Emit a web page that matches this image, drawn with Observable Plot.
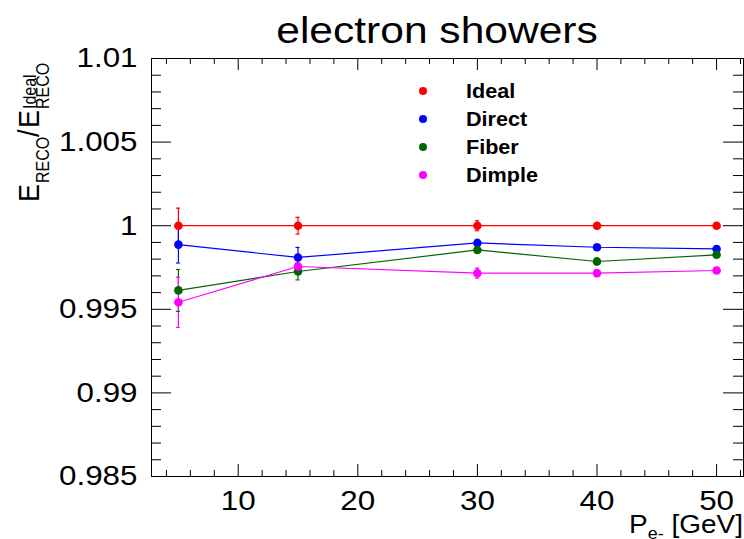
<!DOCTYPE html>
<html><head><meta charset="utf-8">
<script src="https://cdn.jsdelivr.net/npm/d3@7"></script>
<script src="https://cdn.jsdelivr.net/npm/@observablehq/plot@0.6"></script>
<style>body{margin:0;background:#fff} svg{display:block}</style>
</head><body><div id="chart"></div>
<script>
// ---- data ----
const momenta = [5, 15, 30, 40, 50];
const seriesNames = ["Ideal", "Direct", "Fiber", "Dimple"];
const seriesColors = ["#ff0000", "#0000ff", "#006600", "#ff00ff"];
const idealRatio  = [1.0, 1.0, 1.0, 1.0, 1.0];
const idealErr    = [0.00105, 0.0005, 0.0003, 0.0001, 0.0001];
const directRatio = [0.99887, 0.9981, 0.99897, 0.99871, 0.99861];
const directErr   = [0.0011, 0.0006, 0.0002, 0.0001, 0.0001];
const fiberRatio  = [0.99613, 0.99726, 0.99855, 0.99786, 0.99826];
const fiberErr    = [0.00125, 0.0005, 0.0002, 0.0002, 0.0001];
const dimpleRatio = [0.99542, 0.99756, 0.99716, 0.99716, 0.99732];
const dimpleErr   = [0.0015, 0.0002, 0.0003, 0.0002, 0.0001];
const xTicks = [10, 20, 30, 40, 50];
const xTickLabels = ["10", "20", "30", "40", "50"];
const yTicks = [0.985, 0.99, 0.995, 1, 1.005, 1.01];
const yTickLabels = ["0.985", "0.99", "0.995", "1", "1.005", "1.01"];
const titleText = "electron showers";

const allValues = [idealRatio, directRatio, fiberRatio, dimpleRatio];
const allErrors = [idealErr, directErr, fiberErr, dimpleErr];
const rows = seriesNames.flatMap((s, k) => momenta.map((m, i) => ({
  series: s, x: m, y: allValues[k][i], e: allErrors[k][i]
})));

const xDomain = [2.75, 52.25];
const yDomain = [0.985, 1.01];
const xMinor = d3.range(4, 53, 2).filter(v => v % 10 !== 0);
const yMinor = d3.range(985, 1011).filter(v => v % 5 !== 0).map(v => v / 1000);

const W = 744, H = 539;
const mL = 151, mR = 1, mT = 58, mB = 63;
const pw = W - mL - mR, ph = H - mT - mB;
const FONT = "'Liberation Sans', Arial, Helvetica, sans-serif";

const chart = Plot.plot({
  width: W, height: H,
  marginLeft: mL, marginRight: mR, marginTop: mT, marginBottom: mB,
  style: {fontFamily: FONT, background: "#fff", color: "#000"},
  x: {domain: xDomain, axis: null},
  y: {domain: yDomain, axis: null},
  color: {domain: seriesNames, range: seriesColors},
  marks: [
    // axis ticks (inward, ROOT style)
    Plot.ruleX(xTicks, {x: d => d, insetTop: ph - 12, stroke: "#000"}),
    Plot.ruleX(xMinor, {x: d => d, insetTop: ph - 6, stroke: "#000"}),
    Plot.ruleX(xTicks, {x: d => d, insetBottom: ph - 12, stroke: "#000"}),
    Plot.ruleX(xMinor, {x: d => d, insetBottom: ph - 6, stroke: "#000"}),
    Plot.ruleY(yTicks, {y: d => d, insetRight: pw - 20, stroke: "#000"}),
    Plot.ruleY(yMinor, {y: d => d, insetRight: pw - 10, stroke: "#000"}),
    Plot.ruleY(yTicks, {y: d => d, insetLeft: pw - 20, stroke: "#000"}),
    Plot.ruleY(yMinor, {y: d => d, insetLeft: pw - 10, stroke: "#000"}),
    Plot.frame({stroke: "#000", strokeWidth: 1}),
    // tick labels
    Plot.text(xTicks, {x: d => d, y: () => yDomain[0], text: (d, i) => xTickLabels[i], dy: 33,
      lineAnchor: "bottom", fontSize: 28, className: "stretch", fill: "#000"}),
    Plot.text(yTicks, {x: () => xDomain[0], y: d => d, text: (d, i) => yTickLabels[i], dx: -14,
      textAnchor: "end", lineAnchor: "middle", fontSize: 28, className: "stretch", fill: "#000"}),
    // data
    Plot.line(rows, {x: "x", y: "y", z: "series", stroke: "series", strokeWidth: 1.2}),
    Plot.ruleX(rows, {x: "x", y1: d => d.y - d.e, y2: d => d.y + d.e, stroke: "series", strokeWidth: 1.2}),
    Plot.ruleY(rows, {y: d => d.y + d.e, x1: d => d.x - 0.17, x2: d => d.x + 0.17, stroke: "series", strokeWidth: 1.2}),
    Plot.ruleY(rows, {y: d => d.y - d.e, x1: d => d.x - 0.17, x2: d => d.x + 0.17, stroke: "series", strokeWidth: 1.2}),
    Plot.dot(rows, {x: "x", y: "y", fill: "series", r: 4.3, stroke: "none"})
  ]
});

document.getElementById("chart").append(chart);
const svg = d3.select(chart);

// horizontal stretch of text (reference rendering is slightly widened); scale about the anchor (local x=0)
svg.selectAll("g.stretch text").each(function() {
  const tr = this.getAttribute("transform") || "";
  this.setAttribute("transform", `${tr} scale(1.12,1)`);
});

// title
svg.append("text").attr("transform", "translate(437,43) scale(1.15,1)")
  .attr("text-anchor", "middle").attr("font-size", 37).attr("font-family", FONT)
  .attr("fill", "#000").text(titleText);

// x-axis title: P_{e-} [GeV]
const xl = svg.append("text").attr("transform", "translate(743,533) scale(1.12,1)")
  .attr("text-anchor", "end").attr("font-size", 25).attr("font-family", FONT).attr("fill", "#000");
xl.append("tspan").text("P");
xl.append("tspan").attr("font-size", 16).attr("dy", 6).text("e-");
xl.append("tspan").attr("dy", -6).text(" [GeV]");

// y-axis title: E_RECO / E^Ideal_RECO (rotated)
const yl = svg.append("g").attr("transform", "translate(39,202) rotate(-90) scale(1,1.1)")
  .attr("font-family", FONT).attr("fill", "#000").attr("text-anchor", "start");
yl.append("text").attr("x", 0).attr("y", 0).attr("font-size", 27).text("E");
yl.append("text").attr("x", 19).attr("y", 9).attr("font-size", 16).text("RECO");
yl.append("text").attr("x", 65).attr("y", 0).attr("font-size", 27).text("/");
yl.append("text").attr("x", 74).attr("y", 0).attr("font-size", 27).text("E");
yl.append("text").attr("x", 93).attr("y", -3).attr("font-size", 16).text("Ideal");
yl.append("text").attr("x", 93).attr("y", 9).attr("font-size", 16).text("RECO");

// legend
const lg = svg.append("g").attr("font-family", FONT).attr("text-anchor", "start");
seriesNames.forEach((s, i) => {
  lg.append("circle").attr("cx", 423).attr("cy", 91 + 28 * i).attr("r", 4).attr("fill", seriesColors[i]);
  lg.append("text").attr("transform", `translate(466,${98 + 28 * i}) scale(1.08,1)`)
    .attr("font-size", 20).attr("font-weight", "bold").attr("fill", "#000").text(s);
});
</script>
</body></html>
